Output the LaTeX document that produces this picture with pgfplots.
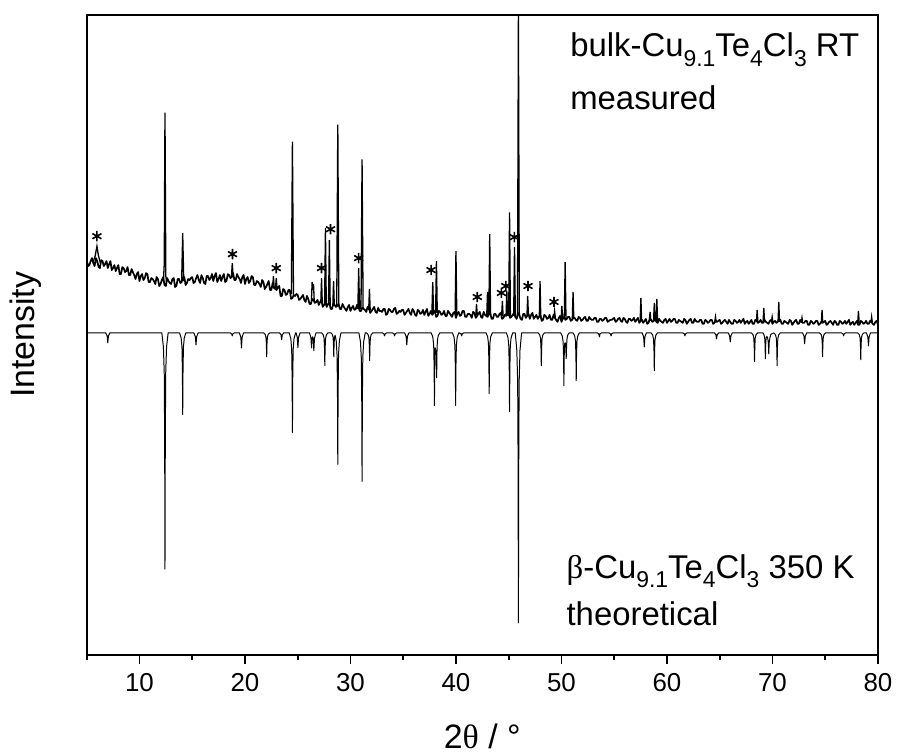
\documentclass[border=0pt]{standalone}
\usepackage{pgfplots}
\pgfplotsset{compat=1.18}
\usepackage{fontspec}
\setmainfont{Liberation Sans}
\newfontfamily\grk{Liberation Serif}
\newcommand\sub[1]{\raisebox{-0.28em}{\fontsize{11.5}{12}\selectfont #1}}
\begin{document}
\begin{tikzpicture}
\begin{axis}[
  scale only axis, width=397pt, height=321pt,
  xmin=5, xmax=80, ymin=0, ymax=642,
  axis line style={line width=1pt},
  xtick={10,20,...,80}, minor xtick={5,15,...,75},
  ytick=\empty,
  xtick pos=bottom, tick align=outside,
  major tick length=4.5pt, minor tick length=2.5pt,
  tick style={line width=0.9pt, black},
  /pgf/number format/assume math mode=true,
  tick label style={font=\fontsize{13}{15}\selectfont},
  xticklabel style={yshift=-1.5pt},
  xlabel={2{\grk θ} / °}, ylabel={Intensity},
  label style={font=\fontsize{17}{20}\selectfont},
  xlabel style={at={(axis description cs:0.5,-0.128)}, anchor=center},
  ylabel style={at={(axis description cs:-0.077,0.5)}, anchor=center},
  unbounded coords=jump,
]
% measured: noisy background
\addplot[black, line width=0.85pt, line join=round] coordinates {
(5.000,396)(5.125,390)(5.250,391)(5.375,395)(5.500,398)(5.625,393)(5.750,390)(5.875,398)(6.000,395)(6.125,389)(6.250,388)(6.375,396)(6.500,395)(6.625,390)(6.750,392)(6.875,395)(7.000,388)(7.125,392)(7.250,395)(7.375,386)
(7.500,388)(7.625,391)(7.750,385)(7.875,388)(8.000,391)(8.125,382)(8.250,382)(8.375,389)(8.500,388)(8.625,384)(8.750,385)(8.875,389)(9.000,381)(9.125,381)(9.250,387)(9.375,384)(9.500,381)(9.625,377)(9.750,382)(9.875,384)
(10.000,375)(10.125,380)(10.250,382)(10.375,376)(10.500,378)(10.625,383)(10.750,382)(10.875,374)(11.000,374)(11.125,378)(11.250,377)(11.375,375)(11.500,372)(11.625,379)(11.750,377)(11.875,370)(12.000,372)(12.125,376)(12.250,379)(12.375,371)
(12.500,370)(12.625,378)(12.750,375)(12.875,373)(13.000,372)(13.125,377)(13.250,378)(13.375,369)(13.500,370)(13.625,377)(13.750,377)(13.875,373)(14.000,374)(14.125,379)(14.250,379)(14.375,371)(14.500,373)(14.625,377)(14.750,376)(14.875,378)
(15.000,379)(15.125,373)(15.250,374)(15.375,378)(15.500,381)(15.625,376)(15.750,373)(15.875,381)(16.000,378)(16.125,373)(16.250,372)(16.375,380)(16.500,380)(16.625,376)(16.750,378)(16.875,382)(17.000,375)(17.125,380)(17.250,383)(17.375,374)
(17.500,377)(17.625,381)(17.750,375)(17.875,379)(18.000,382)(18.125,374)(18.250,375)(18.375,382)(18.500,381)(18.625,378)(18.750,379)(18.875,383)(19.000,376)(19.125,376)(19.250,382)(19.375,379)(19.500,377)(19.625,373)(19.750,379)(19.875,381)
(20.000,372)(20.125,377)(20.250,379)(20.375,373)(20.500,375)(20.625,380)(20.750,379)(20.875,371)(21.000,371)(21.125,375)(21.250,374)(21.375,372)(21.500,369)(21.625,376)(21.750,374)(21.875,367)(22.000,369)(22.125,372)(22.250,375)(22.375,366)
(22.500,366)(22.625,373)(22.750,368)(22.875,367)(23.000,366)(23.125,369)(23.250,370)(23.375,360)(23.500,360)(23.625,367)(23.750,366)(23.875,361)(24.000,362)(24.125,366)(24.250,366)(24.375,357)(24.500,358)(24.625,361)(24.750,360)(24.875,362)
(25.000,361)(25.125,356)(25.250,357)(25.375,359)(25.500,361)(25.625,356)(25.750,354)(25.875,360)(26.000,357)(26.125,352)(26.250,352)(26.375,357)(26.500,356)(26.625,353)(26.750,354)(26.875,356)(27.000,351)(27.125,354)(27.250,356)(27.375,349)
(27.500,351)(27.625,353)(27.750,349)(27.875,352)(28.000,353)(28.125,347)(28.250,347)(28.375,352)(28.500,351)(28.625,349)(28.750,350)(28.875,352)(29.000,347)(29.125,347)(29.250,352)(29.375,349)(29.500,347)(29.625,345)(29.750,349)(29.875,351)
(30.000,345)(30.125,348)(30.250,350)(30.375,346)(30.500,347)(30.625,351)(30.750,350)(30.875,345)(31.000,345)(31.125,348)(31.250,347)(31.375,346)(31.500,344)(31.625,349)(31.750,348)(31.875,343)(32.000,345)(32.125,347)(32.250,349)(32.375,344)
(32.500,343)(32.625,348)(32.750,345)(32.875,345)(33.000,344)(33.125,347)(33.250,347)(33.375,341)(33.500,342)(33.625,347)(33.750,346)(33.875,344)(34.000,344)(34.125,347)(34.250,348)(34.375,342)(34.500,343)(34.625,345)(34.750,344)(34.875,346)
(35.000,346)(35.125,341)(35.250,343)(35.375,345)(35.500,347)(35.625,343)(35.750,341)(35.875,347)(36.000,345)(36.125,341)(36.250,340)(36.375,346)(36.500,345)(36.625,342)(36.750,343)(36.875,346)(37.000,341)(37.125,344)(37.250,347)(37.375,340)
(37.500,342)(37.625,345)(37.750,341)(37.875,343)(38.000,345)(38.125,339)(38.250,340)(38.375,345)(38.500,344)(38.625,341)(38.750,342)(38.875,345)(39.000,340)(39.125,340)(39.250,345)(39.375,343)(39.500,341)(39.625,339)(39.750,343)(39.875,344)
(40.000,338)(40.125,342)(40.250,344)(40.375,340)(40.500,341)(40.625,345)(40.750,345)(40.875,339)(41.000,339)(41.125,342)(41.250,342)(41.375,341)(41.500,338)(41.625,344)(41.750,343)(41.875,338)(42.000,340)(42.125,342)(42.250,344)(42.375,339)
(42.500,338)(42.625,344)(42.750,341)(42.875,340)(43.000,339)(43.125,342)(43.250,343)(43.375,337)(43.500,337)(43.625,342)(43.750,342)(43.875,339)(44.000,339)(44.125,342)(44.250,343)(44.375,337)(44.500,338)(44.625,341)(44.750,340)(44.875,342)
(45.000,342)(45.125,338)(45.250,339)(45.375,341)(45.500,343)(45.625,339)(45.750,337)(45.875,343)(46.000,341)(46.125,337)(46.250,336)(46.375,342)(46.500,342)(46.625,338)(46.750,340)(46.875,342)(47.000,337)(47.125,341)(47.250,343)(47.375,337)
(47.500,339)(47.625,341)(47.750,337)(47.875,339)(48.000,341)(48.125,335)(48.250,336)(48.375,341)(48.500,340)(48.625,337)(48.750,338)(48.875,341)(49.000,336)(49.125,336)(49.250,341)(49.375,338)(49.500,336)(49.625,334)(49.750,338)(49.875,340)
(50.000,334)(50.125,337)(50.250,339)(50.375,336)(50.500,337)(50.625,339)(50.750,339)(50.875,335)(51.000,336)(51.125,338)(51.250,338)(51.375,336)(51.500,335)(51.625,339)(51.750,338)(51.875,335)(52.000,336)(52.125,338)(52.250,339)(52.375,335)
(52.500,335)(52.625,339)(52.750,337)(52.875,336)(53.000,336)(53.125,338)(53.250,338)(53.375,334)(53.500,334)(53.625,337)(53.750,337)(53.875,335)(54.000,336)(54.125,338)(54.250,338)(54.375,334)(54.500,335)(54.625,336)(54.750,336)(54.875,337)
(55.000,338)(55.125,334)(55.250,335)(55.375,337)(55.500,338)(55.625,335)(55.750,334)(55.875,338)(56.000,337)(56.125,334)(56.250,333)(56.375,337)(56.500,337)(56.625,335)(56.750,336)(56.875,338)(57.000,334)(57.125,336)(57.250,338)(57.375,333)
(57.500,335)(57.625,336)(57.750,333)(57.875,335)(58.000,337)(58.125,332)(58.250,333)(58.375,337)(58.500,336)(58.625,334)(58.750,335)(58.875,337)(59.000,334)(59.125,333)(59.250,337)(59.375,335)(59.500,334)(59.625,333)(59.750,336)(59.875,337)
(60.000,333)(60.125,335)(60.250,337)(60.375,334)(60.500,335)(60.625,337)(60.750,337)(60.875,333)(61.000,333)(61.125,336)(61.250,335)(61.375,334)(61.500,333)(61.625,337)(61.750,336)(61.875,332)(62.000,334)(62.125,336)(62.250,337)(62.375,333)
(62.500,333)(62.625,337)(62.750,335)(62.875,334)(63.000,334)(63.125,336)(63.250,336)(63.375,332)(63.500,332)(63.625,336)(63.750,335)(63.875,333)(64.000,334)(64.125,336)(64.250,336)(64.375,332)(64.500,333)(64.625,335)(64.750,334)(64.875,335)
(65.000,336)(65.125,332)(65.250,333)(65.375,335)(65.500,336)(65.625,334)(65.750,332)(65.875,336)(66.000,334)(66.125,332)(66.250,332)(66.375,336)(66.500,335)(66.625,333)(66.750,334)(66.875,336)(67.000,333)(67.125,335)(67.250,337)(67.375,332)
(67.500,334)(67.625,335)(67.750,332)(67.875,334)(68.000,336)(68.125,332)(68.250,332)(68.375,336)(68.500,335)(68.625,333)(68.750,334)(68.875,336)(69.000,333)(69.125,333)(69.250,336)(69.375,334)(69.500,333)(69.625,332)(69.750,335)(69.875,336)
(70.000,332)(70.125,334)(70.250,335)(70.375,333)(70.500,334)(70.625,336)(70.750,336)(70.875,332)(71.000,332)(71.125,335)(71.250,334)(71.375,333)(71.500,332)(71.625,336)(71.750,335)(71.875,331)(72.000,333)(72.125,335)(72.250,336)(72.375,332)
(72.500,332)(72.625,336)(72.750,334)(72.875,333)(73.000,333)(73.125,335)(73.250,335)(73.375,331)(73.500,331)(73.625,335)(73.750,334)(73.875,332)(74.000,333)(74.125,335)(74.250,335)(74.375,331)(74.500,332)(74.625,334)(74.750,333)(74.875,334)
(75.000,335)(75.125,331)(75.250,332)(75.375,334)(75.500,335)(75.625,333)(75.750,331)(75.875,335)(76.000,334)(76.125,331)(76.250,331)(76.375,335)(76.500,334)(76.625,332)(76.750,333)(76.875,335)(77.000,332)(77.125,334)(77.250,336)(77.375,331)
(77.500,333)(77.625,334)(77.750,331)(77.875,333)(78.000,335)(78.125,331)(78.250,331)(78.375,335)(78.500,334)(78.625,332)(78.750,333)(78.875,335)(79.000,332)(79.125,332)(79.250,335)(79.375,334)(79.500,332)(79.625,331)(79.750,334)(79.875,335)
(80.000,331)
};
% measured: reflections
\addplot[black, line width=0.65pt] coordinates {
(5.60,394)(5.80,400)(5.97,410)(6.10,401)(6.30,393)(6.30,nan)
(12.27,374)(12.35,392)(12.42,544)(12.50,380)(12.57,374)(12.57,nan)
(14.00,375)(14.10,423)(14.20,375)(14.20,nan)
(18.72,379)(18.80,393)(18.88,379)(18.88,nan)
(22.63,369)(22.70,380)(22.77,368)(22.77,nan)
(22.90,368)(22.97,378)(23.04,367)(23.04,nan)
(24.40,362)(24.50,515)(24.60,361)(24.60,nan)
(26.30,355)(26.37,374)(26.44,366)(26.50,372)(26.57,354)(26.57,nan)
(27.19,353)(27.26,378)(27.33,353)(27.33,nan)
(27.55,352)(27.63,428)(27.71,352)(27.71,nan)
(27.92,351)(28.00,416)(28.08,351)(28.08,nan)
(28.33,350)(28.40,375)(28.47,350)(28.47,nan)
(28.70,350)(28.80,532)(28.90,350)(28.90,nan)
(30.70,347)(30.78,388)(30.86,347)(30.86,nan)
(31.00,347)(31.10,497)(31.20,347)(31.20,nan)
(31.73,346)(31.80,367)(31.87,346)(31.87,nan)
(37.72,343)(37.80,374)(37.88,343)(37.88,nan)
(38.07,343)(38.15,395)(38.23,343)(38.23,nan)
(39.92,342)(40.00,405)(40.08,342)(40.08,nan)
(41.88,341)(41.95,352)(42.02,341)(42.02,nan)
(42.92,341)(42.99,364)(43.06,341)(43.06,nan)
(43.12,341)(43.20,422)(43.28,341)(43.28,nan)
(44.33,340)(44.40,355)(44.47,340)(44.47,nan)
(44.75,340)(44.82,365)(44.89,340)(44.89,nan)
(45.00,340)(45.08,444)(45.16,340)(45.16,nan)
(45.47,340)(45.55,409)(45.63,340)(45.63,nan)
(45.83,340)(45.92,641)(46.01,340)(46.01,nan)
(46.73,340)(46.80,360)(46.87,340)(46.87,nan)
(47.90,339)(47.97,375)(48.04,339)(48.04,nan)
(49.28,338)(49.35,345)(49.42,338)(49.42,nan)
(49.97,337)(50.04,350)(50.11,337)(50.11,nan)
(50.27,337)(50.35,394)(50.43,337)(50.43,nan)
(51.03,337)(51.10,364)(51.17,337)(51.17,nan)
(57.46,335)(57.53,358)(57.60,335)(57.60,nan)
(58.33,335)(58.40,344)(58.47,335)(58.47,nan)
(58.73,335)(58.80,353)(58.87,335)(58.87,nan)
(58.97,335)(59.04,357)(59.11,335)(59.11,nan)
(64.53,334)(64.60,339)(64.67,334)(64.67,nan)
(68.48,334)(68.55,346)(68.62,334)(68.62,nan)
(69.11,334)(69.18,348)(69.25,334)(69.25,nan)
(69.90,334)(69.97,339)(70.04,334)(70.04,nan)
(70.53,334)(70.60,354)(70.67,334)(70.67,nan)
(72.73,333)(72.80,338)(72.87,333)(72.87,nan)
(74.63,333)(74.70,346)(74.77,333)(74.77,nan)
(78.08,333)(78.15,345)(78.22,333)(78.22,nan)
(79.33,333)(79.40,339)(79.47,333)
};
% impurity reflections marked with asterisks
\addplot[only marks, mark=asterisk, mark size=2.6pt, mark options={line width=0.8pt, black}] coordinates {
(5.97,420)(18.82,402)(22.97,388)(27.26,388)(28.11,427)(30.78,398)(37.64,386)
(42.02,359)(44.31,363)(44.73,370)(45.54,419)(46.83,370)(49.29,354)
};
% theoretical pattern (drawn downward)
\addplot[black, line width=0.5pt, line join=round] coordinates {
(5.00,323)
(6.80,323)(6.94,320)(7.00,313)(7.06,320)(7.20,323)
(12.12,323)(12.27,309)(12.35,283)(12.39,216)(12.42,86)(12.45,216)(12.49,283)(12.57,309)(12.72,323)
(13.80,323)(13.95,318)(14.03,309)(14.07,286)(14.10,241)(14.13,286)(14.17,309)(14.25,318)(14.40,323)
(15.16,323)(15.30,319)(15.36,311)(15.42,319)(15.56,323)
(18.60,323)(18.74,322)(18.80,320)(18.86,322)(19.00,323)
(19.47,323)(19.61,318.5)(19.67,308)(19.73,318.5)(19.87,323)
(21.76,323)(21.91,321.6)(21.99,318.9)(22.03,312.2)(22.06,299)(22.09,312.2)(22.13,318.9)(22.21,321.6)(22.36,323)
(23.28,323)(23.42,321)(23.48,316)(23.54,321)(23.68,323)
(24.20,323)(24.35,317)(24.43,306)(24.47,278)(24.50,223)(24.53,278)(24.57,306)(24.65,317)(24.80,323)
(24.85,323)(24.96,318.5)(25.02,308)(25.08,318.5)(25.22,323)
(26.11,323)(26.25,318.5)(26.31,308)(26.37,318)(26.42,319)(26.47,317.6)(26.53,305)(26.59,317.6)(26.73,323)
(27.27,323)(27.42,321)(27.50,317.4)(27.54,308.1)(27.57,290)(27.60,308.1)(27.64,317.4)(27.72,321)(27.87,323)
(28.15,323)(28.27,321.6)(28.35,318.9)(28.39,312.2)(28.42,299)(28.45,312.2)(28.49,318.9)(28.55,320.5)
(28.65,315)(28.73,300.6)(28.77,263.6)(28.80,191)(28.83,263.6)(28.87,300.6)(28.95,315)(29.10,323)
(30.80,323)(30.95,314)(31.03,297.7)(31.07,256)(31.10,174)(31.13,256)(31.17,297.7)(31.25,314)(31.40,323)
(31.52,323)(31.67,321.3)(31.75,318.2)(31.79,310.4)(31.82,295)(31.85,310.4)(31.89,318.2)(31.97,321.3)(32.12,323)
(33.03,323)(33.17,322)(33.23,320)(33.29,322)(33.43,323)
(33.98,323)(34.12,322)(34.18,320)(34.24,322)(34.38,323)
(35.14,323)(35.28,319.4)(35.34,311)(35.40,319.4)(35.54,323)
(37.66,323)(37.81,318.6)(37.89,310.6)(37.93,290.1)(37.96,250)(37.99,290.1)(38.03,308)(38.07,306)
(38.13,303)(38.17,278)(38.20,303)(38.24,315.3)(38.32,320.3)(38.47,323)
(39.67,323)(39.82,318.6)(39.90,310.6)(39.94,290.1)(39.97,250)(40.00,290.1)(40.04,310.6)(40.12,318.6)(40.27,323)
(40.34,323)(40.48,322)(40.54,320)(40.60,322)(40.74,323)
(42.85,323)(43.00,319.3)(43.08,312.6)(43.12,295.5)(43.15,262)(43.18,295.5)(43.22,312.6)(43.30,319.3)(43.45,323)
(44.78,323)(44.93,318.3)(45.01,309.6)(45.05,287.4)(45.08,244)(45.11,287.4)(45.15,309.6)(45.23,318.3)(45.38,323)
(45.62,323)(45.77,305.5)(45.85,273.5)(45.89,192)(45.92,32)(45.95,192)(45.99,273.5)(46.07,305.5)(46.22,323)
(47.79,323)(47.94,321)(48.02,317.4)(48.06,308.1)(48.09,290)(48.12,308.1)(48.16,317.4)(48.24,321)(48.39,323)
(49.93,323)(50.08,319.8)(50.16,314)(50.20,299.1)(50.23,270)(50.26,299.1)(50.30,312)(50.36,313)(50.41,309)(50.45,297)(50.49,311)(50.53,317.5)(50.61,321.2)(50.75,323)
(51.10,323)(51.25,320.1)(51.33,314.8)(51.37,301.4)(51.40,275)(51.43,301.4)(51.47,314.8)(51.55,320.1)(51.70,323)
(53.40,323)(53.54,322)(53.60,319)(53.66,322)(53.80,323)
(54.50,323)(54.64,322)(54.70,320)(54.76,322)(54.90,323)
(57.65,323)(57.79,319)(57.85,309)(57.91,319)(58.05,323)
(58.50,323)(58.65,320.7)(58.73,316.5)(58.77,305.9)(58.80,285)(58.83,305.9)(58.87,316.5)(58.95,320.7)(59.10,323)
(61.50,323)(61.64,322)(61.70,320)(61.76,322)(61.90,323)
(64.50,323)(64.64,321)(64.70,317)(64.76,321)(64.90,323)
(65.80,323)(65.94,320)(66.00,314)(66.06,320)(66.20,323)
(68.00,323)(68.15,321.3)(68.23,318.1)(68.27,310)(68.30,294)(68.33,310)(68.37,318.1)(68.45,321.3)(68.60,323)
(69.10,323)(69.18,321.5)(69.26,318.6)(69.30,311.3)(69.33,297)(69.36,311.3)(69.40,318)(69.48,319.5)(69.56,317)(69.61,313)(69.65,302)(69.69,313)(69.75,317.8)(69.85,321.5)
(70.14,323)(70.29,321)(70.37,317.4)(70.41,308.1)(70.44,290)(70.47,308.1)(70.51,317.4)(70.59,321)(70.74,323)
(72.85,323)(72.99,319.7)(73.05,312)(73.11,319.7)(73.25,323)
(74.45,323)(74.60,321.6)(74.68,318.9)(74.72,312.2)(74.75,299)(74.78,312.2)(74.82,318.9)(74.90,321.6)(75.05,323)
(76.54,323)(76.68,322)(76.74,320)(76.80,322)(76.94,323)
(78.07,323)(78.22,321.4)(78.30,318.4)(78.34,310.9)(78.37,296)(78.40,310.9)(78.44,318.4)(78.52,321.4)(78.67,323)
(78.90,323)(79.04,319)(79.10,310)(79.16,319)(79.30,323)
(80.00,323)
};
\node[anchor=base west, inner sep=0pt, font=\fontsize{16.5}{19}\selectfont] at (axis cs:50.8,600) {bulk-Cu\sub{9.1}Te\sub{4}Cl\sub{3} RT};
\node[anchor=base west, inner sep=0pt, font=\fontsize{16.5}{19}\selectfont] at (axis cs:50.8,547) {measured};
\node[anchor=base west, inner sep=0pt, font=\fontsize{16.5}{19}\selectfont] at (axis cs:50.45,77) {{\grk β}-Cu\sub{9.1}Te\sub{4}Cl\sub{3} 350 K};
\node[anchor=base west, inner sep=0pt, font=\fontsize{16.5}{19}\selectfont] at (axis cs:50.45,29) {theoretical};
\end{axis}
\path (current axis.south west) ++(-43.5pt,-50.5pt) coordinate (bbA);
\path (current axis.north east) ++(9pt,7.5pt) coordinate (bbB);
\path (bbA) rectangle (bbB);
\end{tikzpicture}
\end{document}
